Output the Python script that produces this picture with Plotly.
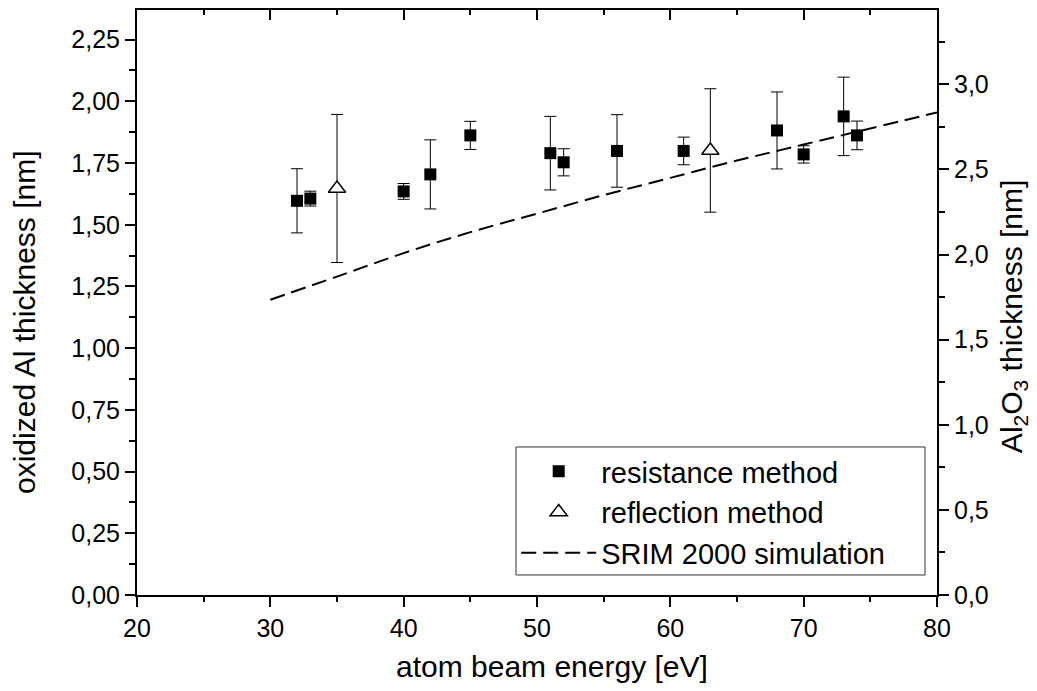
import plotly.graph_objects as go

# ---- data ----
energy_res = [32, 33, 40, 42, 45, 51, 52, 56, 61, 68, 70, 73, 74]
thick_res = [1.597, 1.606, 1.635, 1.704, 1.862, 1.790, 1.753, 1.799, 1.799, 1.882, 1.785, 1.939, 1.862]
err_res = [0.13, 0.03, 0.032, 0.14, 0.057, 0.149, 0.055, 0.147, 0.056, 0.156, 0.035, 0.159, 0.058]

energy_ref = [35, 63]
thick_ref = [1.647, 1.801]
err_ref = [0.30, 0.25]

energy_srim = [30, 35, 40, 45, 50, 55, 60, 65, 70, 75, 80]
thick_srim = [1.196, 1.29, 1.385, 1.47, 1.545, 1.62, 1.69, 1.76, 1.825, 1.89, 1.955]

x_range = [20, 80]
y_left_range = [0, 2.37]
y_right_range = [0, 2.37 * 1.45]

FONT = "Arial, Liberation Sans, sans-serif"

fig = go.Figure()

fig.add_trace(go.Scatter(
    x=energy_res, y=thick_res, mode="markers", name="resistance method",
    marker=dict(symbol="square", size=12, color="black"),
    error_y=dict(type="data", array=err_res, color="black", thickness=1, width=6),
))
fig.add_trace(go.Scatter(
    x=energy_ref, y=thick_ref, mode="markers", name="reflection method",
    marker=dict(symbol="triangle-up", size=15, color="white",
                line=dict(color="black", width=1.5)),
    error_y=dict(type="data", array=err_ref, color="black", thickness=1, width=6),
))
fig.add_trace(go.Scatter(
    x=energy_srim, y=thick_srim, mode="lines", name="SRIM 2000 simulation",
    line=dict(color="black", width=2, dash="15px,7px", shape="spline"),
))
# invisible helpers so the mirrored top axis and right axis are drawn
fig.add_trace(go.Scatter(x=x_range, y=[0, 0], xaxis="x2", yaxis="y", mode="lines",
                         opacity=0, showlegend=False, hoverinfo="skip"))
fig.add_trace(go.Scatter(x=x_range, y=[0, 0], xaxis="x", yaxis="y2", mode="lines",
                         opacity=0, showlegend=False, hoverinfo="skip"))

axis_common = dict(showgrid=False, zeroline=False, showline=True, linecolor="black",
                   linewidth=2, tickcolor="black", tickwidth=2,
                   tickfont=dict(family=FONT, size=25, color="black"))

fig.update_layout(
    width=1037, height=691,
    margin=dict(l=137, r=100, t=10, b=96),
    paper_bgcolor="white", plot_bgcolor="white",
    separators=",.",
    font=dict(family=FONT, color="black"),
    xaxis=dict(range=x_range, tick0=20, dtick=10, ticks="outside", ticklen=10,
               minor=dict(ticks="outside", ticklen=5, dtick=5, tickwidth=2, tickcolor="black"),
               **axis_common),
    xaxis2=dict(range=x_range, overlaying="x", side="top", anchor="y", tick0=20, dtick=10,
                ticks="inside", ticklen=10, showticklabels=False,
                minor=dict(ticks="inside", ticklen=5, dtick=5, tickwidth=2, tickcolor="black"),
                **axis_common),
    yaxis=dict(range=y_left_range, tick0=0, dtick=0.25, tickformat=".2f", ticks="outside",
               ticklen=10,
               minor=dict(ticks="outside", ticklen=6, dtick=0.125, tickwidth=2, tickcolor="black"),
               **axis_common),
    yaxis2=dict(range=y_right_range, overlaying="y", side="right", anchor="x", tick0=0,
                dtick=0.5, tickformat=".1f", ticks="outside", ticklen=10,
                minor=dict(ticks="outside", ticklen=6, dtick=0.25, tickwidth=2, tickcolor="black"),
                **axis_common),
    legend=dict(x=0.474, y=0.0274, xanchor="left", yanchor="bottom",
                bgcolor="rgba(0,0,0,0)", borderwidth=0,
                font=dict(family=FONT, size=29, color="black"), itemwidth=75),
    showlegend=True,
)

# legend frame
fig.add_shape(type="rect", xref="paper", yref="paper",
              x0=0.47375, x1=0.985, y0=0.0342, y1=0.253,
              line=dict(color="#333333", width=1), fillcolor="white", layer="below")

fig.add_annotation(text="atom beam energy [eV]", xref="paper", yref="paper",
                   x=0.519, y=-0.123, xanchor="center", yanchor="middle", showarrow=False,
                   font=dict(family=FONT, size=30, color="black"))
fig.add_annotation(text="oxidized Al thickness [nm]", xref="paper", yref="paper",
                   x=-0.14, y=0.4667, xanchor="center", yanchor="middle", textangle=-90,
                   showarrow=False, font=dict(family=FONT, size=30, color="black"))
fig.add_annotation(text="Al<sub>2</sub>O<sub>3</sub> thickness [nm]", xref="paper", yref="paper",
                   x=1.095, y=0.475, xanchor="center", yanchor="middle", textangle=-90,
                   showarrow=False, font=dict(family=FONT, size=30, color="black"))

fig.write_html("out.html")
